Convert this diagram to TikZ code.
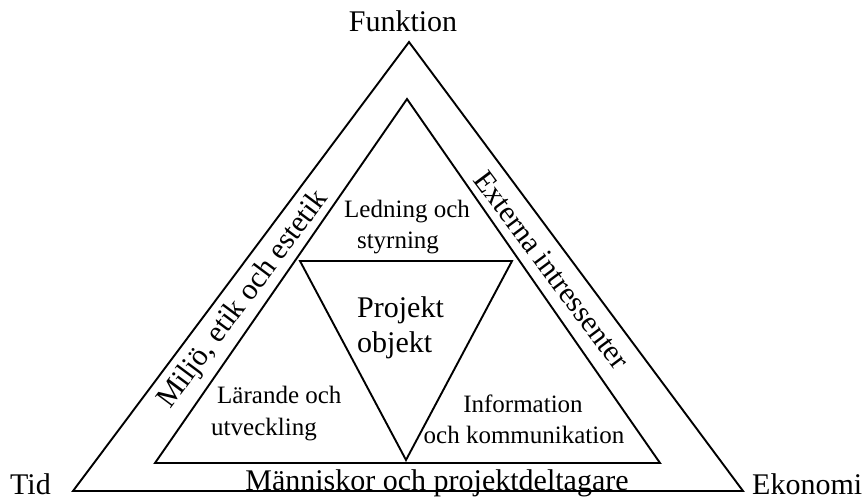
\documentclass[tikz,border=0pt]{standalone}
\usepackage{fontspec}
\setmainfont{Liberation Serif}
\begin{document}
\begin{tikzpicture}[x=1pt,y=1pt,
  edge/.style={draw=black,line width=1.9pt,line join=miter},
  big/.style={inner sep=0pt,font=\fontsize{30}{35}\selectfont},
  small/.style={inner sep=0pt,font=\fontsize{25}{31}\selectfont}]
\useasboundingbox (0,0) rectangle (864,499);
% outer triangle
\coordinate (oT) at (409,457);
\coordinate (oL) at (73,8);
\coordinate (oR) at (743,8);
% middle triangle
\coordinate (mT) at (407,400);
\coordinate (mL) at (155,36);
\coordinate (mR) at (660,36);
% inverted core triangle
\coordinate (cL) at (300,238);
\coordinate (cR) at (512,238);
\coordinate (cB) at (406,39);
\draw[edge] (oT) -- (oL) -- (oR) -- cycle;
\draw[edge] (mT) -- (mL) -- (mR) -- cycle;
\draw[edge] (cL) -- (cR) -- (cB) -- cycle;
% corner labels
\node[big,anchor=base] (funk) at (403,467) {Funktion};
\node[big,anchor=base west] (tid) at (10,5) {Tid};
\node[big,anchor=base west] (eko) at (752,5) {Ekonomi};
% band labels
\node[big,anchor=base] (mann) at (437,9) {Människor och projektdeltagare};
\node[big,rotate=53.2] (milj) at (244,199) {Miljö, etik och estetik};
\node[big,rotate=-53.2] (ext) at (552,229) {Externa intressenter};
% inner labels
\node[small,anchor=base] (led1) at (407,282) {Ledning och};
\node[small,anchor=base] (led2) at (398,251) {styrning};
\node[big,anchor=base west] (proj1) at (357,182) {Projekt};
\node[big,anchor=base west] (proj2) at (357,147) {objekt};
\node[small,anchor=base west] (lar1) at (217,96) {Lärande och};
\node[small,anchor=base west] (lar2) at (211,64) {utveckling};
\node[small,anchor=base] (inf1) at (523,87) {Information};
\node[small,anchor=base] (inf2) at (524,56) {och kommunikation};
\end{tikzpicture}
\end{document}
